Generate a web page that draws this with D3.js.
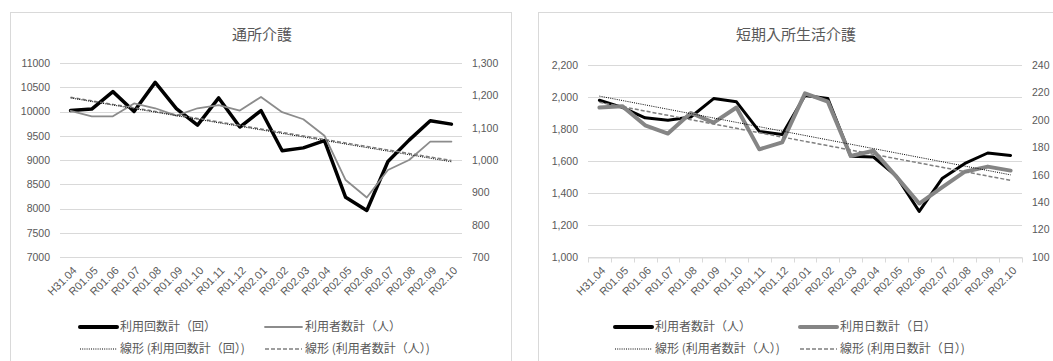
<!DOCTYPE html>
<html><head><meta charset="utf-8">
<script src="https://cdn.jsdelivr.net/npm/d3@7"></script>
<style>
html,body{margin:0;padding:0;background:#fff;}
svg{display:block;}
</style></head>
<body>
<svg id="c" width="1053" height="361"></svg>
<script>
// ---- data ----
const categories = ["H31.04","R01.05","R01.06","R01.07","R01.08","R01.09","R01.10","R01.11","R01.12","R02.01","R02.02","R02.03","R02.04","R02.05","R02.06","R02.07","R02.08","R02.09","R02.10"];

// 通所介護
const dayCareTitle = "通所介護";
const dayCareVisits = [10020,10050,10410,10000,10600,10060,9720,10280,9680,10020,9190,9250,9400,8230,7960,8970,9410,9810,9740]; // 利用回数計（回） left axis
const dayCareUsers  = [1152,1135,1135,1175,1160,1137,1160,1170,1153,1195,1148,1126,1075,938,884,969,1000,1057,1057];             // 利用者数計（人） right axis
const dayCareLeftTicks  = [7000,7500,8000,8500,9000,9500,10000,10500,11000];
const dayCareRightTicks = [700,800,900,1000,1100,1200,1300];
const dayCareLegend = ["利用回数計（回）","利用者数計（人）","線形 (利用回数計（回）)","線形 (利用者数計（人）)"];

// 短期入所生活介護
const shortStayTitle = "短期入所生活介護";
const shortStayUsers = [1980,1935,1870,1855,1875,1990,1970,1785,1765,2010,1990,1630,1625,1505,1285,1490,1585,1650,1635]; // 利用者数計（人） left axis
const shortStayDays  = [209,210,196,190,205,198,209,178.5,183.6,219.3,213.3,173.6,177.5,158.6,139,150.8,162.2,165.9,163]; // 利用日数計（日） right axis
const shortStayLeftTicks  = [1000,1200,1400,1600,1800,2000,2200];
const shortStayRightTicks = [100,120,140,160,180,200,220,240];
const shortStayLegend = ["利用者数計（人）","利用日数計（日）","線形 (利用者数計（人）)","線形 (利用日数計（日）)"];

// ---- drawing ----
const svg = d3.select("#c");
const TXT = "#595959";
const GRID = "#d9d9d9";
const NUMFONT = "'Liberation Sans', Arial, sans-serif";
const JPFONT = "'Noto Sans CJK JP', 'Noto Sans', sans-serif";

function linReg(vals){
  const mx = d3.mean(vals, (d,i)=>i), my = d3.mean(vals);
  let sxy=0, sxx=0;
  vals.forEach((v,i)=>{sxy+=(i-mx)*(v-my); sxx+=(i-mx)*(i-mx);});
  const b = sxy/sxx, a = my - b*mx;
  return vals.map((v,i)=>a+b*i);
}

function drawChart(o){
  const g = svg.append("g");
  g.append("rect").attr("x",o.panel[0]+0.5).attr("y",o.panel[1]+0.5)
    .attr("width",o.panel[2]).attr("height",o.panel[3])
    .attr("fill","#fff").attr("stroke",GRID).attr("stroke-width",1);
  g.append("text").attr("x",o.titleX).attr("y",40).attr("text-anchor","middle")
    .attr("font-family",JPFONT).attr("font-size",15).attr("fill",TXT).text(o.title);

  const x = d3.scaleBand().domain(categories).range([o.x0,o.x1]);
  const cx = c => x(c) + x.bandwidth()/2;
  const yL = d3.scaleLinear().domain(d3.extent(o.leftTicks)).range([o.yB,o.yT]);
  const yR = d3.scaleLinear().domain(d3.extent(o.rightTicks)).range([o.yB,o.yT]);

  g.append("g").selectAll("line").data(o.leftTicks).join("line")
    .attr("x1",o.x0).attr("x2",o.x1)
    .attr("y1",d=>Math.round(yL(d))+0.5).attr("y2",d=>Math.round(yL(d))+0.5)
    .attr("stroke",GRID).attr("stroke-width",1);

  const axL = d3.axisLeft(yL).tickValues(o.leftTicks).tickFormat(o.leftFmt).tickSize(0).tickPadding(10);
  const gL = g.append("g").attr("transform",`translate(${o.x0},0)`).call(axL);
  gL.select(".domain").remove();
  gL.selectAll("text").attr("font-family",NUMFONT).attr("font-size",10.5).attr("fill",TXT);
  const axR = d3.axisRight(yR).tickValues(o.rightTicks).tickFormat(o.rightFmt).tickSize(0).tickPadding(10);
  const gR = g.append("g").attr("transform",`translate(${o.x1},0)`).call(axR);
  gR.select(".domain").remove();
  gR.selectAll("text").attr("font-family",NUMFONT).attr("font-size",10.5).attr("fill",TXT);

  const axX = d3.axisBottom(x).tickSize(0).tickPadding(0);
  const gX = g.append("g").attr("transform",`translate(0,${Math.round(o.yB)+0.5})`).call(axX);
  gX.select(".domain").attr("stroke",o.xTicks?GRID:"none");
  gX.selectAll("text").attr("font-family",NUMFONT).attr("font-size",11).attr("fill",TXT)
    .attr("text-anchor","end").attr("y",0).attr("dy","0.35em")
    .attr("transform","translate(4,11) rotate(-45)");
  if(o.xTicks){
    const bounds = categories.map(c=>x(c)).concat([o.x1]);
    g.append("g").selectAll("line").data(bounds).join("line")
      .attr("x1",d=>Math.round(d)+0.5).attr("x2",d=>Math.round(d)+0.5)
      .attr("y1",Math.round(o.yB)+0.5).attr("y2",Math.round(o.yB)+5.5)
      .attr("stroke",GRID).attr("stroke-width",1);
  }

  const lineL = d3.line().x((d,i)=>cx(categories[i])).y(d=>yL(d));
  const lineR = d3.line().x((d,i)=>cx(categories[i])).y(d=>yR(d));

  g.append("path").datum(o.s1).attr("d",lineL).attr("fill","none")
    .attr("stroke","#000").attr("stroke-width",o.w1).attr("stroke-linejoin","round").attr("stroke-linecap","round");
  g.append("path").datum(o.s2).attr("d",lineR).attr("fill","none")
    .attr("stroke",o.c2).attr("stroke-width",o.w2).attr("stroke-linejoin","round").attr("stroke-linecap","round");

  g.append("path").datum(linReg(o.s2)).attr("d",lineR).attr("fill","none")
    .attr("stroke","#7f7f7f").attr("stroke-width",1.5).attr("stroke-dasharray","4,2");
  g.append("path").datum(linReg(o.s1)).attr("d",lineL).attr("fill","none")
    .attr("stroke","#000").attr("stroke-width",1).attr("stroke-dasharray","1,1.2");

  const lg = g.append("g");
  const L = o.legend;
  const items = [
    {x:L[0], y:327, stroke:"#000", w:4, dash:null, text:o.legendText[0]},
    {x:L[1], y:327, stroke:o.c2, w:o.legW2, dash:null, text:o.legendText[1]},
    {x:L[0], y:349, stroke:"#000", w:1, dash:"1,1.2", text:o.legendText[2]},
    {x:L[1], y:349, stroke:"#7f7f7f", w:1.5, dash:"4,2", text:o.legendText[3]}
  ];
  items.forEach(it=>{
    lg.append("line").attr("x1",it.x).attr("x2",it.x+37).attr("y1",it.y).attr("y2",it.y)
      .attr("stroke",it.stroke).attr("stroke-width",it.w).attr("stroke-dasharray",it.dash)
      .attr("stroke-linecap",it.dash?"butt":"round");
    lg.append("text").attr("x",it.x+40).attr("y",it.y).attr("dy","0.36em")
      .attr("font-family",JPFONT).attr("font-size",12).attr("fill",TXT).text(it.text);
  });
}

drawChart({
  panel:[10,12,501,380], title:dayCareTitle, titleX:262,
  x0:60, x1:462, yT:63, yB:257,
  leftTicks:dayCareLeftTicks, rightTicks:dayCareRightTicks,
  leftFmt:d3.format("d"), rightFmt:d3.format(","),
  s1:dayCareVisits, s2:dayCareUsers, w1:3.5, w2:1.8, c2:"#8c8c8c", legW2:1.8,
  xTicks:false, legend:[80,265], legendText:dayCareLegend
});
drawChart({
  panel:[538,12,530,380], title:shortStayTitle, titleX:796,
  x0:588, x1:1022, yT:65, yB:257,
  leftTicks:shortStayLeftTicks, rightTicks:shortStayRightTicks,
  leftFmt:d3.format(","), rightFmt:d3.format("d"),
  s1:shortStayUsers, s2:shortStayDays, w1:3, w2:4, c2:"#858585", legW2:4,
  xTicks:true, legend:[615,800], legendText:shortStayLegend
});
</script>
</body></html>
